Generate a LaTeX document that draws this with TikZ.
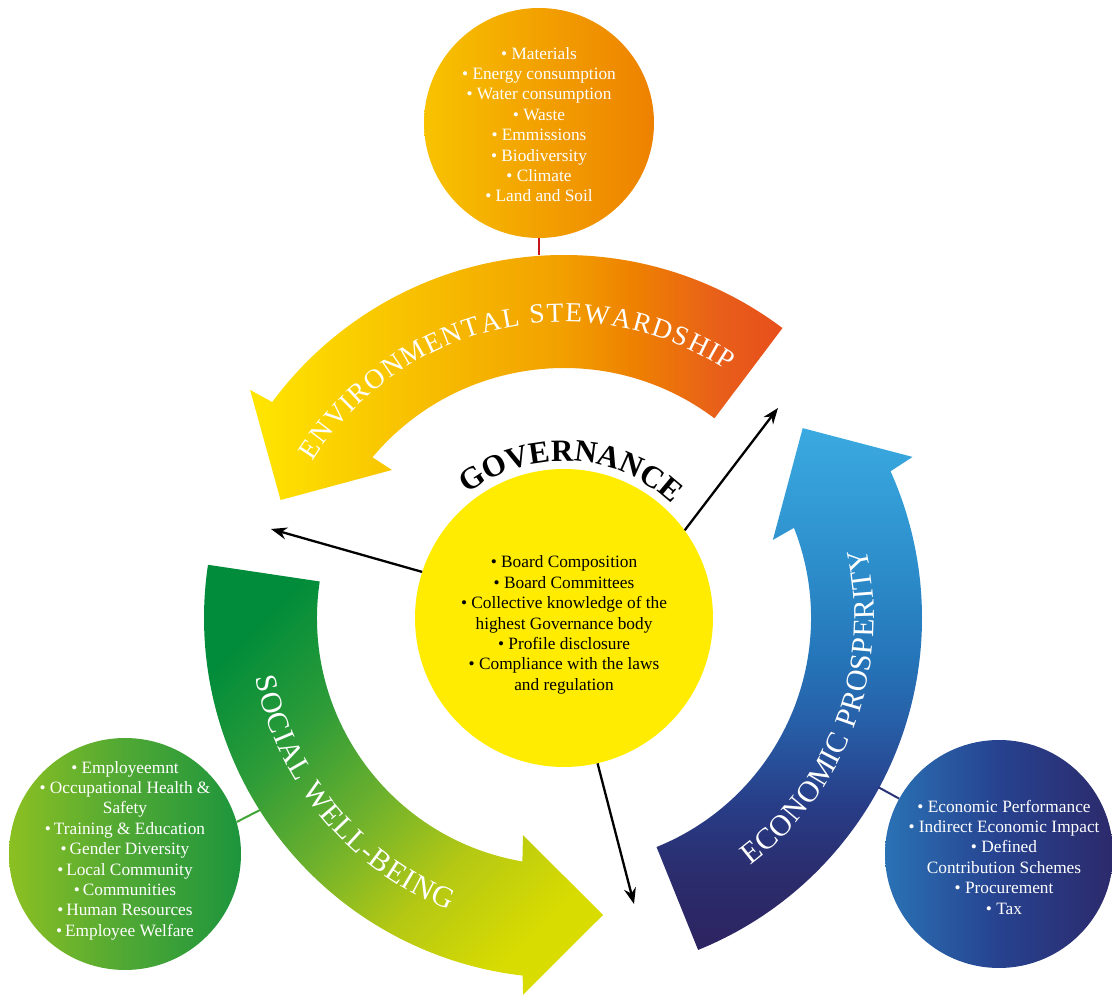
\documentclass[tikz,border=0pt]{standalone}
\usepackage{fontspec}
\setmainfont{Liberation Serif}
\usetikzlibrary{calc,decorations.text,arrows.meta}
\definecolor{envA}{HTML}{FFE600}
\definecolor{envB}{HTML}{F8C300}
\definecolor{envC}{HTML}{F2A100}
\definecolor{envD}{HTML}{EE8100}
\definecolor{envE}{HTML}{E85F1A}
\definecolor{envF}{HTML}{E84E1B}
\definecolor{ecoA}{HTML}{2D2461}
\definecolor{ecoB}{HTML}{2B2C6C}
\definecolor{ecoC}{HTML}{283D88}
\definecolor{ecoD}{HTML}{2760A8}
\definecolor{ecoE}{HTML}{2575B9}
\definecolor{ecoF}{HTML}{2D8ECC}
\definecolor{ecoG}{HTML}{3AAAE0}
\definecolor{socA}{HTML}{D9DC00}
\definecolor{socB}{HTML}{B4C814}
\definecolor{socC}{HTML}{6DB12D}
\definecolor{socD}{HTML}{2E9C38}
\definecolor{socE}{HTML}{008C3A}
\definecolor{govY}{HTML}{FFEC00}
\definecolor{lnRed}{HTML}{C4161C}
\definecolor{lnGreen}{HTML}{3FA535}
\definecolor{lnNavy}{HTML}{2B3478}
\pgfdeclarehorizontalshading{envsh}{100bp}{color(0bp)=(envA); color(25bp)=(envA); color(39bp)=(envB); color(54bp)=(envC); color(61bp)=(envD); color(69bp)=(envE); color(75bp)=(envF); color(100bp)=(envF)}
\pgfdeclareverticalshading{ecosh}{100bp}{color(0bp)=(ecoA); color(25bp)=(ecoA); color(32bp)=(ecoB); color(39bp)=(ecoC); color(47bp)=(ecoD); color(53bp)=(ecoE); color(62bp)=(ecoF); color(75bp)=(ecoG); color(100bp)=(ecoG)}
\pgfdeclareverticalshading{socsh}{100bp}{color(0bp)=(socA); color(25bp)=(socA); color(38bp)=(socB); color(50bp)=(socC); color(62bp)=(socD); color(75bp)=(socE); color(100bp)=(socE)}
\newcommand\myarcfont{\fontsize{30}{30}\selectfont\color{white}}
\newcommand\myenvfont{\fontsize{27.5}{27.5}\selectfont\color{white}}
\newcommand\mygovfont{\fontsize{31}{31}\selectfont\bfseries\color{black}}
\tikzset{
  bigcirc/.style={circle, inner sep=0pt},
  listtext/.style={align=center, font=\fontsize{17.3}{20.4}\selectfont, inner sep=0pt},
  blkarrow/.style={line width=2.3pt, -{Stealth[length=16pt,width=12pt]}},
  joinline/.style={line width=2pt},
}
\begin{document}
\begin{tikzpicture}[x=1pt,y=1pt]
\useasboundingbox (0,0) rectangle (1112,996);
\coordinate (C) at (564,378);
% Environmental arrow
\shade[shading=envsh] ($(C)+(53:363)$) arc[start angle=53, end angle=143.5, radius=363]
  -- ($(C)+(144:388)$) -- ($(C)+(157.4:307)$) -- ($(C)+(139.3:227)$) -- ($(C)+(140:250)$)
  arc[start angle=140, end angle=53, radius=250] -- cycle;
% Economic arrow
\shade[shading=ecosh] ($(C)+(-68:358)$) arc[start angle=-68, end angle=24.2, radius=358]
  -- ($(C)+(24.8:384)$) -- ($(C)+(38.5:305)$) -- ($(C)+(20.5:223)$) -- ($(C)+(21.4:247)$)
  arc[start angle=21.4, end angle=-68, radius=247] -- cycle;
% Social arrow
\shade[shading=socsh, shading angle=45] ($(C)+(171.5:360)$) arc[start angle=171.5, end angle=263.4, radius=360]
  -- ($(C)+(263.8:379)$) -- ($(C)+(277.5:299.5)$) -- ($(C)+(259.3:221)$) -- ($(C)+(260.3:247)$)
  arc[start angle=260.3, end angle=171.5, radius=247] -- cycle;
% arc texts
\path[decorate, decoration={text along path, text={|\myenvfont|ENVIRONMENTAL STEWARDSHIP}, text align=fit to path}]
  ($(C)+(148:296)$) arc[start angle=148, end angle=56.5, radius=296];
\path[decorate, decoration={text along path, text={|\myarcfont|SOCIAL WELL-BEING}, text align=fit to path}]
  ($(C)+(191:314)$) arc[start angle=191, end angle=248.5, radius=314];
\path[decorate, decoration={text along path, text={|\myarcfont|ECONOMIC PROSPERITY}, text align=fit to path}]
  ($(C)+(-53:310)$) arc[start angle=-53, end angle=13, radius=310];
% circles
\node[bigcirc, minimum size=230pt, left color=envB, right color=envD, middle color=envC] (envc) at (539,873) {};
\node[bigcirc, minimum size=232pt, left color={rgb,255:red,140;green,192;blue,34}, right color={rgb,255:red,29;green,149;blue,61}, middle color={rgb,255:red,79;green,168;blue,52}] (socc) at (125,142) {};
\node[bigcirc, minimum size=228pt, left color={rgb,255:red,42;green,114;blue,181}, right color={rgb,255:red,44;green,42;blue,107}, middle color={rgb,255:red,39;green,66;blue,143}] (ecoc) at (999,142) {};
\node[bigcirc, minimum size=298pt, fill=govY] (gov) at (C) {};
% connectors
\coordinate (envj) at (539,741);
\coordinate (socj) at (260,186);
\coordinate (ecoj) at (878,209);
\draw[joinline, lnRed] (envc.south) -- (envj);
\draw[joinline, lnGreen] (socc.16) -- (socj);
\draw[joinline, lnNavy] (ecoc.151) -- (ecoj);
% list texts
\node[listtext, text=white] (envtext) at (539,871.5) {\textbullet\ Materials\\ \textbullet\ Energy consumption\\ \textbullet\ Water consumption\\ \textbullet\ Waste\\ \textbullet\ Emmissions\\ \textbullet\ Biodiversity\\ \textbullet\ Climate\\ \textbullet\ Land and Soil};
\node[listtext, text=black] (govtext) at (564,371) {\textbullet\ Board Composition\\ \textbullet\ Board Committees\\ \textbullet\ Collective knowledge of the\\ highest Governance body\\ \textbullet\ Profile disclosure\\ \textbullet\ Compliance with the laws\\ and regulation};
\node[listtext, text=white] (soctext) at (125,145.5) {\textbullet\ Employeemnt\\ \textbullet\ Occupational Health \&\\ Safety\\ \textbullet\,Training \& Education\\ \textbullet\,Gender Diversity\\ \textbullet\,Local Community\\ \textbullet\,Communities\\ \textbullet\,Human Resources\\ \textbullet\,Employee Welfare};
\node[listtext, text=white] (ecotext) at (1004,139) {\textbullet\ Economic Performance\\ \textbullet\ Indirect Economic Impact\\ \textbullet\ Defined\\ Contribution Schemes\\ \textbullet\ Procurement\\ \textbullet\ Tax};
% governance title
\path[decorate, decoration={text along path, text={|\mygovfont|GOVERNANCE}, text align=fit to path}]
  ($(C)+(128:157)$) arc[start angle=128, end angle=49, radius=157];
% black arrows
\coordinate (a1) at (271,467);
\coordinate (a2) at (778,588);
\coordinate (a3) at (634,92);
\draw[blkarrow] (gov.162) -- (a1);
\draw[blkarrow] (gov.36) -- (a2);
\draw[blkarrow] (gov.-77) -- (a3);
\end{tikzpicture}
\end{document}
